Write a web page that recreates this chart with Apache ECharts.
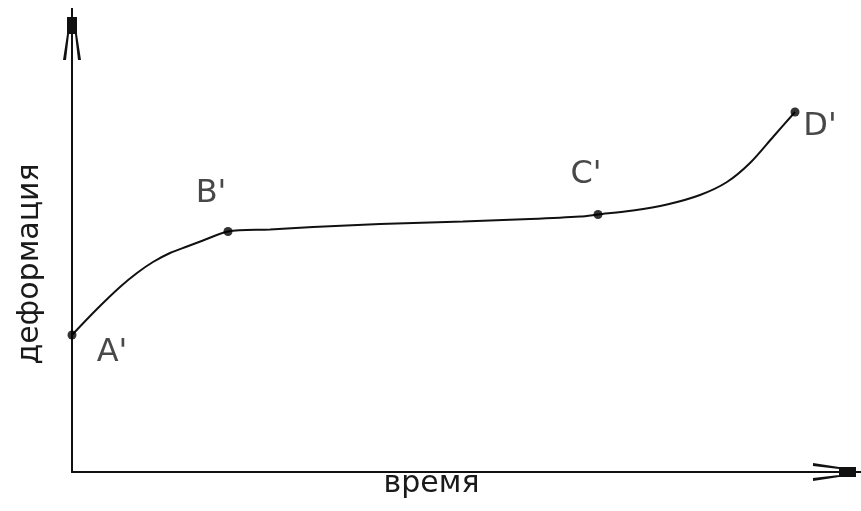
<!DOCTYPE html>
<html>
<head>
<meta charset="utf-8">
<script src="https://cdn.jsdelivr.net/npm/echarts@6/dist/echarts.min.js"></script>
<style>
  html, body { margin: 0; padding: 0; background: #fff; }
  #chart { width: 861px; height: 511px; }
</style>
</head>
<body>
<div id="chart"></div>
<script>
// Creep curve: deformation vs time (arbitrary units)
const timeValues   = [0, 24, 48, 65, 81, 98, 115, 131, 156, 198, 241, 308, 391, 458, 508, 526, 561, 595, 628, 655, 678, 701, 723];
const strainValues = [137, 162, 185, 199, 210, 219, 225.5, 231.5, 240.5, 242.5, 245, 248, 250.5, 253, 255.5, 257.5, 261.5, 267.5, 277, 290, 309, 335, 360];
const pointNames   = ["A'", "B'", "C'", "D'"];
const pointIndex   = [0, 8, 15, 22];
const xAxisTitle   = "время";
const yAxisTitle   = "деформация";

const labelOffsets = {"A'": [40, 18], "B'": [-17, -38], "C'": [-12, -40], "D'": [25, 15]};
const arrowPath = 'path://M-1,0 L1,0 L1,9 L5,9 L5,26 L-5,26 L-5,9 L-1,9 Z M-5,26 L-3,26 L-6,52 L-9,52 Z M5,26 L3,26 L6,52 L9,52 Z';

const curve = timeValues.map((t, i) => [t, strainValues[i]]);
const keyPoints = pointIndex.map((idx, k) => ({
  name: pointNames[k],
  value: [timeValues[idx], strainValues[idx]],
  label: { offset: labelOffsets[pointNames[k]] }
}));

const chart = echarts.init(document.getElementById('chart'), null, { renderer: 'canvas' });
const textColor = '#1a1a1a';
chart.setOption({
  backgroundColor: '#fff',
  animation: false,
  grid: { left: 72, right: 22, top: 34, bottom: 39 },
  xAxis: {
    type: 'value', min: 0, max: 767,
    name: xAxisTitle, nameLocation: 'middle', nameGap: -3,
    nameTextStyle: { fontFamily: 'DejaVu Sans', fontSize: 30, color: textColor, padding: [0, 48, 0, 0] },
    axisLine: { show: true, onZero: false, symbol: ['none', arrowPath], symbolSize: [18, 52],
      lineStyle: { color: '#111', width: 2 } },
    axisTick: { show: false }, axisLabel: { show: false }, splitLine: { show: false }
  },
  yAxis: {
    type: 'value', min: 0, max: 438,
    name: yAxisTitle, nameLocation: 'middle', nameRotate: 90, nameGap: 27,
    nameTextStyle: { fontFamily: 'DejaVu Sans', fontSize: 30, color: textColor, padding: [0, 22, 0, 0] },
    axisLine: { show: true, onZero: false, symbol: ['none', arrowPath], symbolSize: [18, 52],
      lineStyle: { color: '#111', width: 2 } },
    axisTick: { show: false }, axisLabel: { show: false }, splitLine: { show: false }
  },
  series: [
    {
      type: 'line', data: curve, smooth: 0.3,
      showSymbol: false, lineStyle: { color: '#111', width: 2 }, z: 2
    },
    {
      type: 'scatter', data: keyPoints, symbolSize: 9,
      itemStyle: { color: '#000' }, z: 3,
      label: {
        show: true, position: 'inside', formatter: p => p.name,
        fontFamily: 'DejaVu Sans', fontSize: 32, color: textColor
      }
    }
  ]
});
</script>
</body>
</html>
